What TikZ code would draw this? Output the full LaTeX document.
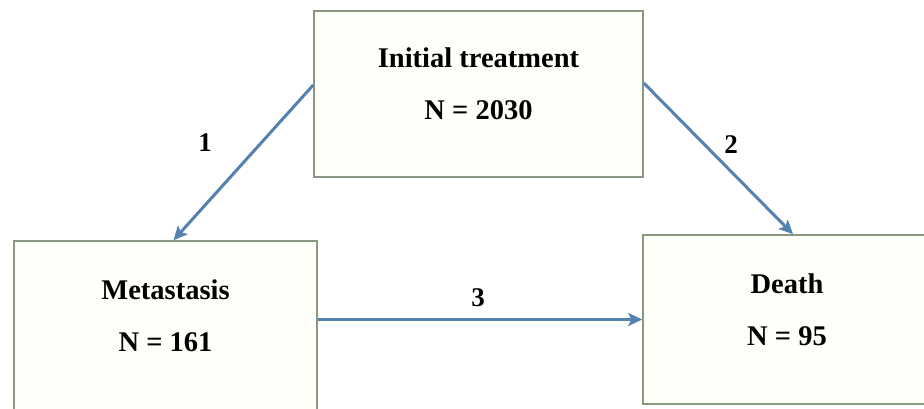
\documentclass[tikz,border=0pt]{standalone}
\usepackage{fontspec}
\setmainfont{Liberation Serif}
\usetikzlibrary{arrows.meta, positioning}
\definecolor{boxline}{RGB}{138,152,130}
\definecolor{flowblue}{RGB}{84,130,175}
\tikzstyle{stage} = [rectangle, draw=boxline, line width=1.5pt, fill=yellow!2, align=center, font=\bfseries\fontsize{28.5}{52}\selectfont, text depth=20pt]
\tikzstyle{pathnum} = [font=\bfseries\fontsize{27}{30}\selectfont, inner sep=0pt]
\tikzstyle{arrow} = [line width=3pt, draw=flowblue, ->, >={Stealth[length=14pt, width=13pt, inset=3pt]}]

\begin{document}
\begin{tikzpicture}[x=1pt, y=1pt]
        \useasboundingbox (0,0) rectangle (924,408);
        \node[stage, minimum width=329pt, minimum height=166pt] (init) at (478.5,314) {Initial treatment\\N = 2030};
        \node[stage, minimum width=303pt, minimum height=169pt] (meta) at (165.5,82.5) {Metastasis\\N = 161};
        \node[stage, minimum width=288pt, minimum height=169pt] (death) at (787,88.5) {Death\\N = 95};
        \node[pathnum] (n1) at (205,265) {1};
        \node[pathnum] (n2) at (731,263) {2};
        \node[pathnum] (n3) at (478,110) {3};
        \draw[arrow] ([yshift=9pt]init.west) -- ([xshift=8pt]meta.north);
        \draw[arrow] ([yshift=11pt]init.east) -- ([xshift=6pt]death.north);
        \draw[arrow] (meta.east |- death.west) -- (death.west);
    \end{tikzpicture}
\end{document}
